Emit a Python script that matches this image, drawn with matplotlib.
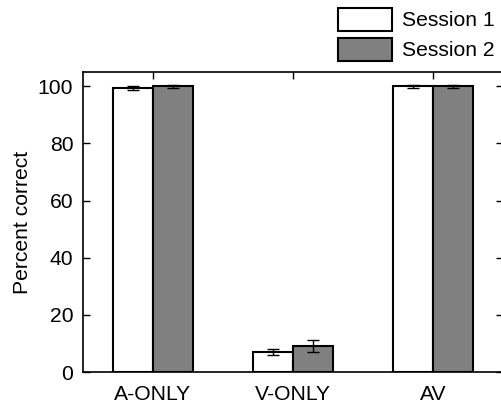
import matplotlib
matplotlib.use("Agg")
import matplotlib.pyplot as plt
import numpy as np
from matplotlib.patches import Patch

conditions = ["A-ONLY", "V-ONLY", "AV"]
session1 = [99.5, 6.9, 100.0]
session1_err = [0.7, 1.0, 0.5]
session2 = [100.0, 9.0, 100.0]
session2_err = [0.5, 2.1, 0.6]
series_labels = ["Session 1", "Session 2"]
yticks = [0, 20, 40, 60, 80, 100]

FS = 15.2
plt.rcParams['font.family'] = ['Liberation Sans', 'DejaVu Sans']
fig = plt.figure(figsize=(5.02, 4.05), dpi=100)
ax = fig.add_axes([83/502, 33/405, 420/502, 300/405])

x = np.arange(1, len(conditions) + 1)
w = 0.285
kw = dict(edgecolor='black', linewidth=1.5, zorder=2)
ax.bar(x - w/2, session1, w, color='white', **kw)
ax.bar(x + w/2, session2, w, color='#808080', **kw)
ekw = dict(fmt='none', ecolor='black', elinewidth=1.0, capsize=4.5, capthick=1.0, zorder=3)
ax.errorbar(x - w/2, session1, yerr=session1_err, **ekw)
ax.errorbar(x + w/2, session2, yerr=session2_err, **ekw)

ax.set_xlim(0.5, 3.5)
ax.set_ylim(0, 105)
ax.set_xticks(x)
ax.set_xticklabels(conditions)
ax.set_yticks(yticks)
ax.tick_params(axis='y', direction='in', left=True, right=True, length=5, width=1.0,
               labelsize=FS, pad=7)
ax.tick_params(axis='x', direction='in', bottom=True, top=True, length=5, width=1.0,
               labelsize=FS, pad=9)
for s in ax.spines.values():
    s.set_linewidth(1.2)
ax.set_ylabel("Percent correct", fontsize=FS, labelpad=4.5)

handles = [Patch(facecolor='white', edgecolor='black', linewidth=1.5),
           Patch(facecolor='#808080', edgecolor='black', linewidth=1.5)]
fig.legend(handles, series_labels, loc='upper left', bbox_to_anchor=(338/502, 1 - 7.5/405),
           frameon=False, fontsize=FS, handlelength=2.54, handleheight=1.32,
           handletextpad=0.47, labelspacing=0.33, borderaxespad=0, borderpad=0)

fig.savefig("out.png", dpi=100)
